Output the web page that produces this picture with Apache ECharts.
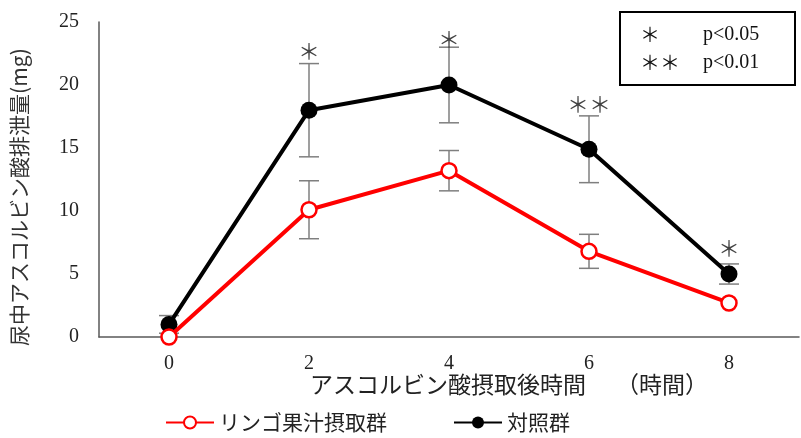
<!DOCTYPE html>
<html>
<head>
<meta charset="utf-8">
<script src="https://cdn.jsdelivr.net/npm/echarts@6/dist/echarts.min.js"></script>
<style>
  html, body { margin: 0; padding: 0; background: #fff; }
  #chart { width: 801px; height: 438px; }
</style>
</head>
<body>
<div id="chart"></div>
<script>
const hours = ['0', '2', '4', '6', '8']
const appleJuice = [0, 10.1, 13.2, 6.8, 2.7]
const appleJuiceSd = [0, 2.3, 1.6, 1.35, 0]
const control = [1.0, 18.0, 20.0, 14.9, 5.0]
const controlSd = [0.7, 3.7, 3.0, 2.65, 0.8]
const sigMarks = ['', '＊', '＊', '＊＊', '＊']
const sigValues = [0, 22.7, 23.7, 18.5, 7.1]

const serif = '"Liberation Serif", "DejaVu Serif", serif'
const jp = '"Noto Sans CJK JP", "Noto Sans", sans-serif'

function errorSeries(name, means, sds) {
  return {
    name: name + '_err',
    type: 'custom',
    z: 1,
    silent: true,
    data: means.map((m, i) => [i, m, sds[i]]),
    renderItem: (params, api) => {
      const i = api.value(0)
      const m = api.value(1)
      const e = api.value(2)
      if (!e) return null
      const hi = api.coord([i, m + e])
      const lo = api.coord([i, m - e])
      const w = 10
      const style = { stroke: '#7f7f7f', lineWidth: 1.5 }
      return {
        type: 'group',
        children: [
          { type: 'line', shape: { x1: hi[0], y1: hi[1], x2: lo[0], y2: lo[1] }, style },
          { type: 'line', shape: { x1: hi[0] - w, y1: hi[1], x2: hi[0] + w, y2: hi[1] }, style },
          { type: 'line', shape: { x1: lo[0] - w, y1: lo[1], x2: lo[0] + w, y2: lo[1] }, style },
        ],
      }
    },
  }
}

const chart = echarts.init(document.getElementById('chart'))
chart.setOption({
  animation: false,
  grid: { left: 99, top: 22, right: 2, bottom: 101, outerBoundsMode: 'none', containLabel: false },
  xAxis: {
    type: 'category',
    data: hours,
    axisLine: { lineStyle: { color: '#595959', width: 1.5 } },
    axisTick: { show: false },
    axisLabel: { color: '#222', fontFamily: serif, fontSize: 20, margin: 17 },
  },
  yAxis: {
    type: 'value',
    min: 0,
    max: 25,
    interval: 5,
    splitLine: { show: false },
    axisLine: { show: true, lineStyle: { color: '#595959', width: 1.5 } },
    axisTick: { show: false },
    axisLabel: { color: '#222', fontFamily: serif, fontSize: 20, margin: 20 },
  },
  legend: {
    left: 160,
    bottom: 0,
    itemWidth: 48,
    itemHeight: 15,
    itemGap: 66,
    textStyle: { color: '#222', fontFamily: jp, fontSize: 21 },
    data: ['リンゴ果汁摂取群', '対照群'],
  },
  graphic: [
    {
      type: 'text',
      x: 19,
      y: 197,
      rotation: Math.PI / 2,
      style: {
        text: '尿中アスコルビン酸排泄量(mg)',
        font: '21px ' + jp,
        fill: '#333',
        align: 'center',
        verticalAlign: 'middle',
      },
    },
    {
      type: 'text',
      left: 310,
      top: 373,
      style: { text: 'アスコルビン酸摂取後時間', font: '23px ' + jp, fill: '#222' },
    },
    {
      type: 'text',
      left: 616,
      top: 373,
      style: { text: '（時間）', font: '23px ' + jp, fill: '#222' },
    },
    {
      type: 'rect',
      shape: { x: 620, y: 12, width: 175, height: 73 },
      style: { fill: '#fff', stroke: '#000', lineWidth: 2 },
    },
    { type: 'text', x: 640, y: 24, style: { text: '＊', font: '20px ' + jp, fill: '#111' } },
    { type: 'text', x: 703, y: 25, style: { text: 'p<0.05', font: '20px ' + serif, fill: '#111' } },
    { type: 'text', x: 640, y: 52, style: { text: '＊＊', font: '20px ' + jp, fill: '#111' } },
    { type: 'text', x: 703, y: 53, style: { text: 'p<0.01', font: '20px ' + serif, fill: '#111' } },
  ],
  series: [
    errorSeries('control', control, controlSd),
    errorSeries('apple', appleJuice, appleJuiceSd),
    {
      name: '対照群',
      type: 'line',
      z: 2,
      data: control,
      symbol: 'circle',
      symbolSize: 17,
      lineStyle: { color: '#000', width: 4 },
      itemStyle: { color: '#000' },
    },
    {
      name: 'リンゴ果汁摂取群',
      type: 'line',
      z: 3,
      data: appleJuice,
      symbol: 'circle',
      symbolSize: 15,
      lineStyle: { color: '#ff0000', width: 4 },
      itemStyle: { color: '#fff', borderColor: '#ff0000', borderWidth: 2.5 },
    },
    {
      name: 'sig',
      type: 'scatter',
      symbol: 'circle',
      symbolSize: 1,
      z: 4,
      silent: true,
      itemStyle: { color: 'rgba(0,0,0,0)' },
      data: sigValues.map((v, i) => ({ value: [i, v], mark: sigMarks[i] })),
      label: {
        show: true,
        position: 'inside',
        formatter: (p) => p.data.mark,
        color: '#111',
        fontFamily: jp,
        fontSize: 22,
      },
    },
  ],
})
</script>
</body>
</html>
